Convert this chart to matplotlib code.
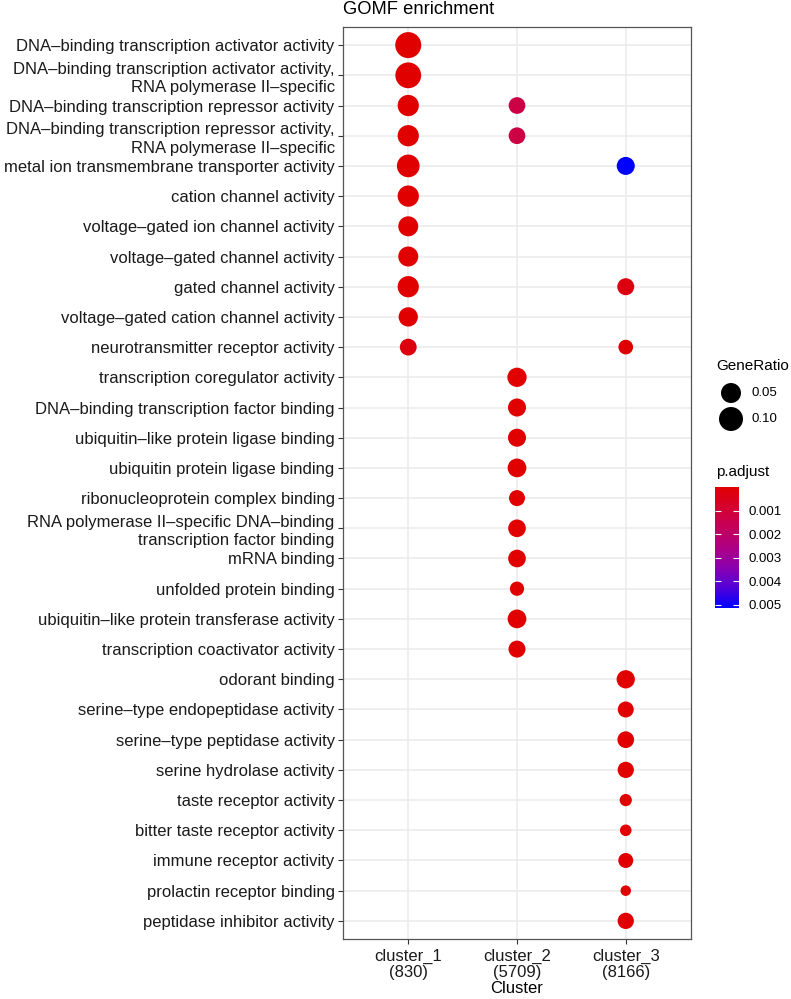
import numpy as np
import matplotlib
matplotlib.use("Agg")
import matplotlib.pyplot as plt
from matplotlib.colors import LinearSegmentedColormap, Normalize
from matplotlib.cm import ScalarMappable

plt.rcParams['font.family'] = ['Liberation Sans', 'DejaVu Sans']

clusters = ["cluster_1\n(830)", "cluster_2\n(5709)", "cluster_3\n(8166)"]

terms = [
    "DNA\u2013binding transcription activator activity",
    "DNA\u2013binding transcription activator activity,\nRNA polymerase II\u2013specific",
    "DNA\u2013binding transcription repressor activity",
    "DNA\u2013binding transcription repressor activity,\nRNA polymerase II\u2013specific",
    "metal ion transmembrane transporter activity",
    "cation channel activity",
    "voltage\u2013gated ion channel activity",
    "voltage\u2013gated channel activity",
    "gated channel activity",
    "voltage\u2013gated cation channel activity",
    "neurotransmitter receptor activity",
    "transcription coregulator activity",
    "DNA\u2013binding transcription factor binding",
    "ubiquitin\u2013like protein ligase binding",
    "ubiquitin protein ligase binding",
    "ribonucleoprotein complex binding",
    "RNA polymerase II\u2013specific DNA\u2013binding\ntranscription factor binding",
    "mRNA binding",
    "unfolded protein binding",
    "ubiquitin\u2013like protein transferase activity",
    "transcription coactivator activity",
    "odorant binding",
    "serine\u2013type endopeptidase activity",
    "serine\u2013type peptidase activity",
    "serine hydrolase activity",
    "taste receptor activity",
    "bitter taste receptor activity",
    "immune receptor activity",
    "prolactin receptor binding",
    "peptidase inhibitor activity",
]

# one entry per dot: cluster index, term index, GeneRatio, p.adjust
point_cluster = [0] * 11 + [1] * 12 + [2] * 12
point_term = list(range(11)) + [2, 3] + list(range(11, 21)) + [4, 8, 10] + list(range(21, 30))
gene_ratio = [0.1316, 0.128, 0.064, 0.064, 0.082, 0.064, 0.050, 0.050, 0.064, 0.043, 0.023,
              0.022, 0.022, 0.043, 0.032, 0.032, 0.038, 0.0175, 0.029, 0.029, 0.0088, 0.038, 0.024,
              0.032, 0.024, 0.0106, 0.034, 0.0175, 0.022, 0.0193, 0.0028, 0.0018, 0.012, 0.0012, 0.0193]
p_adjust = [1e-9, 1e-9, 2e-8, 2e-8, 1e-8, 3e-8, 5e-8, 5e-8, 4e-8, 6e-8, 0.0003,
            0.0013, 0.0013, 1e-6, 2e-6, 2e-6, 3e-6, 4e-6, 3e-6, 5e-6, 1e-5, 4e-6, 2e-5,
            0.00513, 0.0003, 0.00005, 1e-7, 2e-7, 2e-7, 3e-7, 5e-6, 8e-6, 2e-6, 1e-5, 1e-6]

legend_ratios = [0.05, 0.10]
cbar_ticks = [0.001, 0.002, 0.003, 0.004, 0.005]

DPI = 100
W, H = 791, 999
rmin, rmax = min(gene_ratio), max(gene_ratio)


def marker_area(r):
    d = 10.5 + 15.5 * np.sqrt((np.asarray(r) - rmin) / (rmax - rmin))
    return (d * 72.0 / DPI) ** 2


cmap = LinearSegmentedColormap.from_list(
    "padj", ["#E00000", "#D5002E", "#C4005A", "#AE0083", "#8A00B0", "#5200D8", "#0000FF"])
norm = Normalize(vmin=min(p_adjust), vmax=max(p_adjust))

fig = plt.figure(figsize=(W / DPI, H / DPI), dpi=DPI)
ax = fig.add_axes([343 / W, 1 - 939 / H, (691 - 343) / W, (939 - 27) / H])

ax.scatter(point_cluster, point_term, s=marker_area(gene_ratio), c=p_adjust,
           cmap=cmap, norm=norm, edgecolors='none', zorder=3)

ax.set_xlim(-0.6, len(clusters) - 0.4)
ax.set_ylim(len(terms) - 0.4, -0.6)
ax.set_xticks(range(len(clusters)))
ax.set_xticklabels(clusters, fontsize=12, color='#1a1a1a', linespacing=1.1)
ax.set_yticks(range(len(terms)))
ax.set_yticklabels(terms, fontsize=12, color='#1a1a1a', linespacing=1.3)
ax.tick_params(length=3.5, width=0.8, color='#333333', pad=2.5)
ax.tick_params(axis='x', pad=3.5)
ax.grid(True, color='#EBEBEB', lw=1.1, zorder=0)
ax.set_axisbelow(True)
for sp in ax.spines.values():
    sp.set_color('#555555')
    sp.set_linewidth(0.9)
ax.set_xlabel("Cluster", fontsize=12, color='black', labelpad=1)

fig.text(343 / W, 1 - 10 / H, "GOMF enrichment", fontsize=13.2, ha='left', va='center')

# size legend
fig.text(716 / W, 1 - 366 / H, "GeneRatio", fontsize=11, ha='left', va='center')
lax = fig.add_axes([716 / W, 1 - 432 / H, 30 / W, 52 / H])
lax.scatter([0, 0], legend_ratios, s=marker_area(legend_ratios), c='black', edgecolors='none')
lax.set_xlim(-1, 1)
lax.set_ylim(0.125, 0.025)
lax.axis('off')
for r, yy in zip(legend_ratios, [393, 419]):
    fig.text(752 / W, 1 - yy / H, f"{r:.2f}", fontsize=9.5, ha='left', va='center')

# colour legend
fig.text(716 / W, 1 - 472 / H, "p.adjust", fontsize=11, ha='left', va='center')
cax = fig.add_axes([715 / W, 1 - 608 / H, 24 / W, (608 - 487) / H])
cb = fig.colorbar(ScalarMappable(norm=norm, cmap=cmap), cax=cax, ticks=cbar_ticks)
cb.ax.invert_yaxis()
cb.outline.set_visible(False)
cb.ax.yaxis.set_ticks_position('both')
cb.ax.tick_params(direction='in', length=4, width=0.8, color='white', labelsize=9.5, pad=7)
cb.ax.set_yticklabels([f"{t:.3f}" for t in cbar_ticks])

fig.savefig("out.png", dpi=DPI)
